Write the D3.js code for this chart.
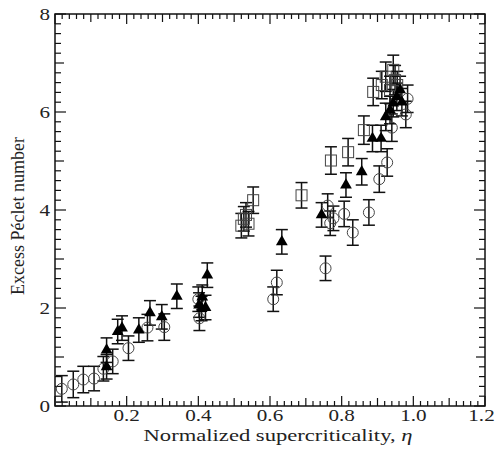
<!DOCTYPE html>
<html><head><meta charset="utf-8">
<script src="https://cdn.jsdelivr.net/npm/d3@7"></script>
<style>body{margin:0;background:#fff}svg{display:block}text{font-family:"Liberation Serif","Times New Roman",serif;fill:#222}</style>
</head><body>
<svg id="c" width="496" height="452"></svg>
<script>
// data
const circleEta = [0.019,0.051,0.079,0.109,0.135,0.161,0.205,0.258,0.305,0.400,0.403,0.609,0.619,0.755,0.761,0.768,0.777,0.807,0.831,0.876,0.905,0.927,0.940,0.979,0.984];
const circleVal = [0.35,0.44,0.54,0.56,0.76,0.91,1.18,1.60,1.61,2.18,1.79,2.18,2.52,2.81,4.09,3.73,3.83,3.92,3.54,3.95,4.63,4.97,5.68,5.95,6.27];
const circleErr = [0.27,0.27,0.27,0.25,0.25,0.25,0.25,0.27,0.27,0.25,0.25,0.25,0.25,0.25,0.24,0.25,0.25,0.26,0.26,0.26,0.27,0.28,0.28,0.27,0.28];
const squareEta = [0.520,0.527,0.533,0.540,0.553,0.688,0.770,0.818,0.862,0.888,0.912,0.923,0.935,0.944,0.949,0.955];
const squareVal = [3.68,3.82,3.90,3.72,4.20,4.30,5.01,5.18,5.63,6.41,6.55,6.72,6.45,6.86,6.65,6.55];
const squareErr = [0.25,0.25,0.25,0.25,0.27,0.26,0.28,0.28,0.29,0.28,0.28,0.3,0.28,0.3,0.3,0.28];
const triEta = [0.144,0.144,0.175,0.187,0.234,0.265,0.298,0.340,0.402,0.409,0.411,0.420,0.425,0.633,0.744,0.812,0.856,0.886,0.910,0.923,0.935,0.944,0.954,0.963,0.968];
const triVal = [1.14,0.80,1.52,1.59,1.55,1.90,1.82,2.24,2.06,1.99,2.22,2.01,2.67,3.35,3.90,4.51,4.78,5.46,5.46,5.90,6.04,6.18,6.31,6.45,6.20];
const triErr = [0.25,0.25,0.25,0.25,0.25,0.25,0.25,0.25,0.25,0.25,0.25,0.25,0.25,0.25,0.25,0.25,0.27,0.27,0.27,0.28,0.28,0.28,0.28,0.28,0.28];
const xTicks = [0.2,0.4,0.6,0.8,1.0,1.2];
const xTickLabels = ["0.2","0.4","0.6","0.8","1.0","1.2"];
const yTicks = [0,2,4,6,8];
const yTickLabels = ["0","2","4","6","8"];
const xTitle = "Normalized supercriticality, ";
const yTitle = "Excess Péclet number";

const L=55,R=485,T=14,B=406;
const SX=1.32; // horizontal stretch of the reference's lettering
const x = d3.scaleLinear().domain([0,1.2]).range([L,R]);
const y = d3.scaleLinear().domain([0,8]).range([B,T]);
const svg = d3.select("#c");

// ticks (inward, all four sides)
const tk = svg.append("g").attr("stroke","#111").attr("stroke-width",1.2);
d3.range(0,61).forEach(i=>{
  const v=i*0.02, px=x(v);
  const len = i%10===0?10:(i%5===0?8:5);
  tk.append("line").attr("x1",px).attr("x2",px).attr("y1",B).attr("y2",B-len);
  tk.append("line").attr("x1",px).attr("x2",px).attr("y1",T).attr("y2",T+len);
});
d3.range(0,41).forEach(i=>{
  const v=i*0.2, py=y(v);
  const len = i%10===0?11:(i%5===0?9:6);
  tk.append("line").attr("x1",L).attr("x2",L+len).attr("y1",py).attr("y2",py);
  tk.append("line").attr("x1",R).attr("x2",R-len).attr("y1",py).attr("y2",py);
});
svg.append("rect").attr("x",L).attr("y",T).attr("width",R-L).attr("height",B-T)
  .attr("fill","none").attr("stroke","#111").attr("stroke-width",1.5);

// tick labels
svg.selectAll(".xl").data(xTicks).join("text").attr("class","xl")
  .attr("transform",d=>`translate(${Math.min(x(d),481.5)},421) scale(${SX},1)`).attr("text-anchor","middle")
  .attr("font-size",16).text((d,i)=>xTickLabels[i]);
svg.selectAll(".yl").data(yTicks).join("text").attr("class","yl")
  .attr("transform",d=>{const p=y(d)+5.5; return `translate(50,${Math.max(12,Math.min(p,415))}) scale(${SX},1)`;})
  .attr("text-anchor","end").attr("font-size",16).text((d,i)=>yTickLabels[i]);

// titles
const xt = svg.append("text").attr("transform",`translate(278,441) scale(1.33,1)`).attr("text-anchor","middle").attr("font-size",17);
xt.append("tspan").text(xTitle);
xt.append("tspan").attr("font-style","italic").text("η");
svg.append("text").attr("transform","translate(24,216) rotate(-90)").attr("text-anchor","middle")
  .attr("font-size",18).text(yTitle);

function errbars(g, eta, val, err){
  const eb = g.append("g").attr("stroke","#111").attr("stroke-width",1.5);
  eta.forEach((e,i)=>{
    const px=x(e), y1=y(val[i]-err[i]), y2=y(val[i]+err[i]);
    eb.append("line").attr("x1",px).attr("x2",px).attr("y1",y1).attr("y2",y2);
    eb.append("line").attr("x1",px-6).attr("x2",px+6).attr("y1",y1).attr("y2",y1);
    eb.append("line").attr("x1",px-6).attr("x2",px+6).attr("y1",y2).attr("y2",y2);
  });
}
const g = svg.append("g");
errbars(g, circleEta, circleVal, circleErr);
errbars(g, squareEta, squareVal, squareErr);
errbars(g, triEta, triVal, triErr);

g.selectAll(".ci").data(circleEta).join("circle").attr("class","ci")
  .attr("cx",d=>x(d)).attr("cy",(d,i)=>y(circleVal[i])).attr("r",5.5)
  .attr("fill","none").attr("stroke","#444").attr("stroke-width",1);
g.selectAll(".sq").data(squareEta).join("rect").attr("class","sq")
  .attr("x",d=>x(d)-5.5).attr("y",(d,i)=>y(squareVal[i])-5.5).attr("width",11).attr("height",11)
  .attr("fill","none").attr("stroke","#444").attr("stroke-width",1);
const tri = d3.symbol().type(d3.symbolTriangle).size(60);
g.selectAll(".tr").data(triEta).join("path").attr("class","tr")
  .attr("transform",(d,i)=>`translate(${x(d)},${y(triVal[i])})`).attr("d",tri)
  .attr("fill","#000");
</script>
</body></html>
